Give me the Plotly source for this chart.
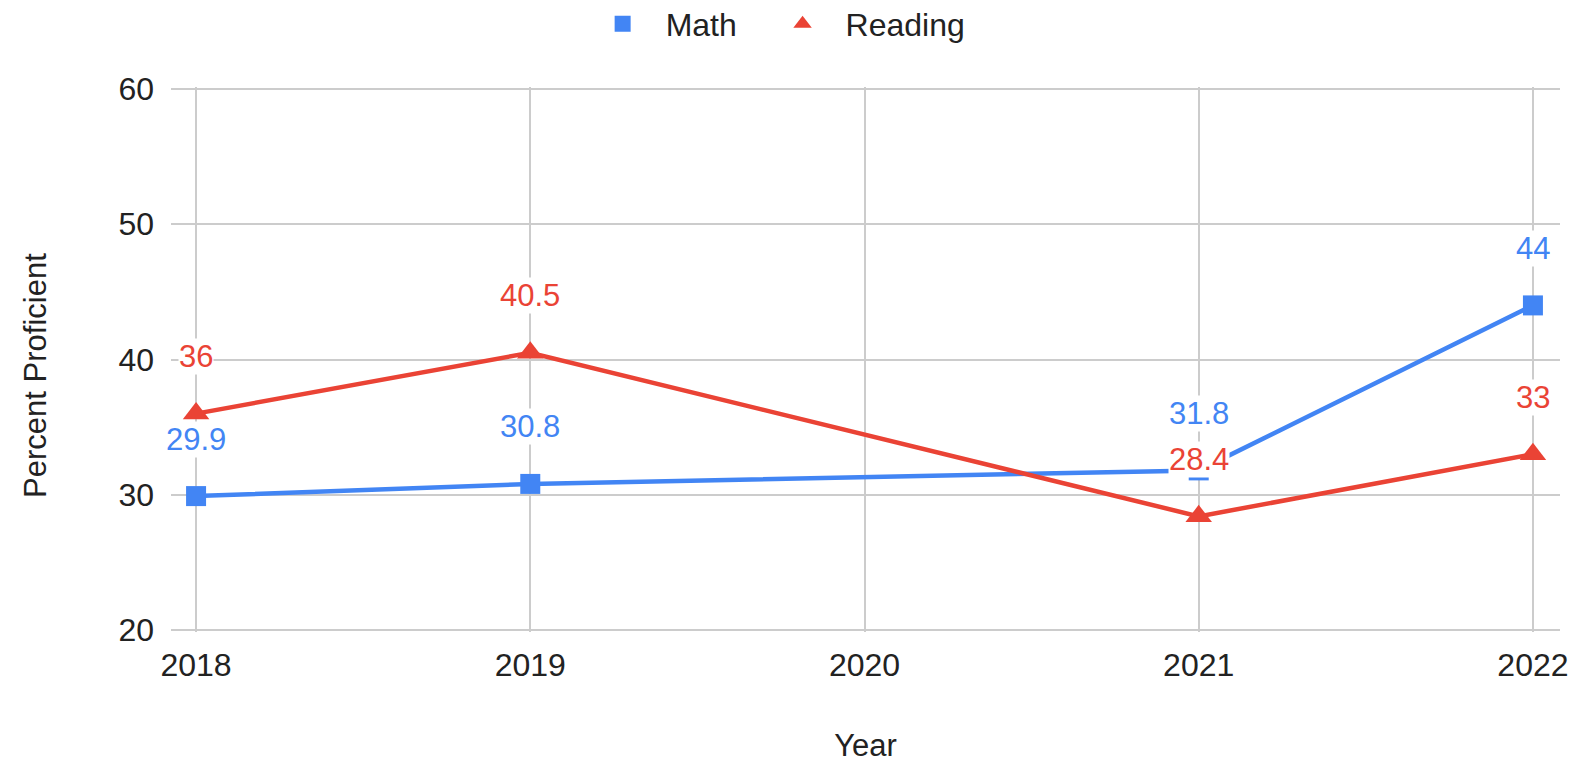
import plotly.graph_objects as go

years = [2018, 2019, 2021, 2022]
math_vals = [29.9, 30.8, 31.8, 44]
reading_vals = [36, 40.5, 28.4, 33]
x_ticks = [2018, 2019, 2020, 2021, 2022]
y_ticks = [20, 30, 40, 50, 60]
series_names = ["Math", "Reading"]

BLUE = "#4285F4"
RED = "#EA4335"
FONT = "Liberation Sans, Arial, sans-serif"
FS_TICK = 32
FS_LAB = 31
NBSP = "\u00a0"

fig = go.Figure()
# lines (no legend)
fig.add_trace(go.Scatter(
    x=years, y=math_vals, name=series_names[0], mode="lines", showlegend=False,
    line=dict(color=BLUE, width=4.5), hoverinfo="skip",
))
fig.add_trace(go.Scatter(
    x=years, y=reading_vals, name=series_names[1], mode="lines", showlegend=False,
    line=dict(color=RED, width=4.5), hoverinfo="skip",
))
# markers (legend shows marker only); trailing spaces widen the gap between entries
fig.add_trace(go.Scatter(
    x=years, y=math_vals, name=series_names[0] + NBSP * 2, mode="markers",
    marker=dict(symbol="square", size=20, color=BLUE),
))
fig.add_trace(go.Scatter(
    x=years, y=reading_vals, name=series_names[1], mode="markers",
    marker=dict(symbol="triangle-up", size=23, color=RED),
))

annotations = []
for vals, col in ((math_vals, BLUE), (reading_vals, RED)):
    for xv, yv in zip(years, vals):
        annotations.append(dict(
            x=xv, y=yv, xref="x", yref="y", text=f"{yv:g}",
            showarrow=False, yshift=57, yanchor="middle",
            font=dict(family=FONT, size=FS_LAB, color=col),
            bgcolor="white", borderpad=0,
        ))
# y-axis title placed like the reference
annotations.append(dict(
    text="Percent Proficient", textangle=-90, showarrow=False,
    xref="paper", yref="paper", x=-0.0975, y=0.471,
    xanchor="center", yanchor="middle",
    font=dict(family=FONT, size=FS_LAB, color="#222222"),
))

fig.update_layout(
    width=1585, height=763,
    paper_bgcolor="white", plot_bgcolor="white",
    margin=dict(l=163, r=33, t=79, b=139, autoexpand=False),
    font=dict(family=FONT, size=FS_TICK, color="#222222"),
    showlegend=True,
    legend=dict(
        orientation="h", xref="container", yref="container",
        x=0.484, xanchor="center", y=0.979, yanchor="middle",
        font=dict(family=FONT, size=FS_TICK, color="#222222"),
        itemwidth=76,
    ),
    annotations=annotations,
    xaxis=dict(
        range=[2017.925, 2022.081], tickmode="array", tickvals=x_ticks,
        ticktext=[str(t) for t in x_ticks],
        showgrid=True, gridcolor="#cccccc", gridwidth=2,
        zeroline=False, showline=False, ticks="",
        ticklabelstandoff=11, tickfont=dict(size=FS_TICK),
        title=dict(text="Year", standoff=52, font=dict(size=FS_LAB, color="#222222")),
        automargin=False,
    ),
    yaxis=dict(
        range=[19.85, 60.15], tickmode="array", tickvals=y_ticks,
        showgrid=True, gridcolor="#cccccc", gridwidth=2,
        zeroline=False, showline=False, ticks="",
        ticklabelstandoff=16, tickfont=dict(size=FS_TICK),
        automargin=False,
    ),
)

fig.write_html("out.html")
